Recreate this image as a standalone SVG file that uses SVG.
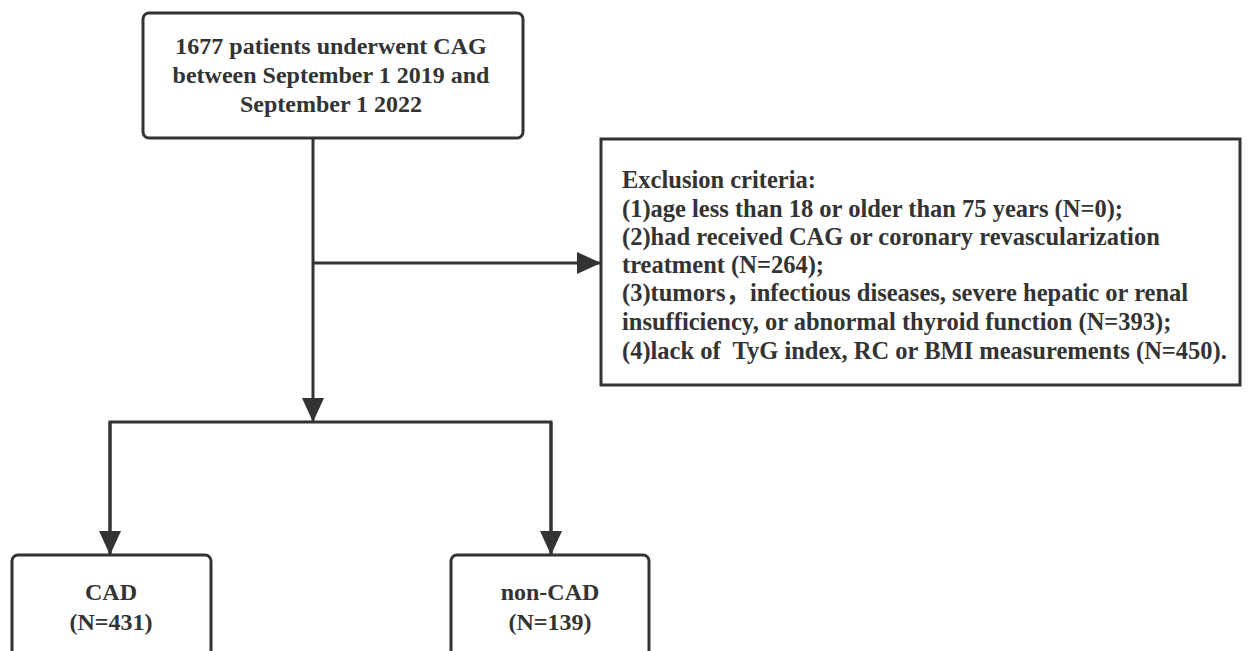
<svg xmlns="http://www.w3.org/2000/svg" width="1250" height="651" viewBox="0 0 1250 651">
<defs>
<style>
.box{fill:#fff;stroke:#333;stroke-width:3}
.ln{fill:none;stroke:#333;stroke-width:3}
.t{font-family:"Liberation Serif","Times New Roman","Noto Sans CJK SC",serif;font-weight:bold;font-size:24px;fill:#333;white-space:pre}
.e{font-size:24.5px}
.c{text-anchor:middle}
</style>
<marker id="ah" markerUnits="userSpaceOnUse" markerWidth="26" markerHeight="22" refX="24" refY="11" orient="auto">
<path d="M0,0 L24,11 L0,22 Z" fill="#333"/>
</marker>
</defs>
<rect width="1250" height="651" fill="#fff"/>
<g id="connectors">
<path class="ln" d="M313,138 V422" marker-end="url(#ah)"/>
<path class="ln" d="M313,263 H601" marker-end="url(#ah)"/>
<path class="ln" d="M110,555 V422 H551 V555"/>
<path class="ln" d="M110,422 V555" marker-end="url(#ah)"/>
<path class="ln" d="M551,422 V555" marker-end="url(#ah)"/>
</g>
<g id="start">
<rect class="box" x="143" y="13" width="380" height="125" rx="6"/>
<text class="t c" x="331" y="54">1677 patients underwent CAG</text>
<text class="t c" x="331" y="83">between September 1 2019 and</text>
<text class="t c" x="331" y="112">September 1 2022</text>
</g>
<g id="exclusion">
<rect class="box" x="601" y="139" width="639" height="246"/>
<text class="t e" x="622" y="188">Exclusion criteria:</text>
<text class="t e" x="622" y="217">(1)age less than 18 or older than 75 years (N=0);</text>
<text class="t e" x="622" y="245">(2)had received CAG or coronary revascularization</text>
<text class="t e" x="622" y="273">treatment (N=264);</text>
<text class="t e" x="622" y="301">(3)tumors，infectious diseases, severe hepatic or renal</text>
<text class="t e" x="622" y="330">insufficiency, or abnormal thyroid function (N=393);</text>
<text class="t e" x="622" y="359">(4)lack of  TyG index, RC or BMI measurements (N=450).</text>
</g>
<g id="cad">
<rect class="box" x="12" y="555" width="199" height="110" rx="6"/>
<text class="t c" x="111" y="600">CAD</text>
<text class="t c" x="111" y="630">(N=431)</text>
</g>
<g id="noncad">
<rect class="box" x="451" y="555" width="198" height="110" rx="6"/>
<text class="t c" x="550" y="600">non-CAD</text>
<text class="t c" x="550" y="630">(N=139)</text>
</g>
</svg>
